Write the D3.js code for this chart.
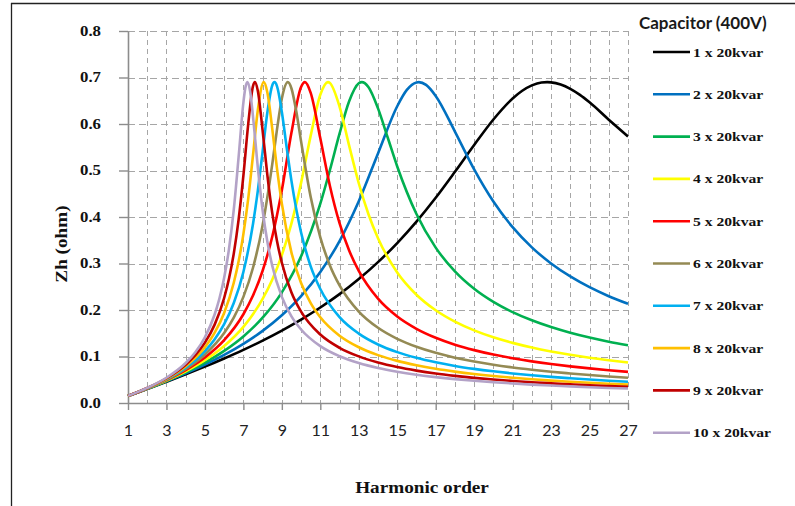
<!DOCTYPE html>
<html><head><meta charset="utf-8">
<script src="https://cdn.jsdelivr.net/npm/d3@7"></script>
<style>body{margin:0;background:#fff}svg{display:block}</style>
</head><body>
<svg id="chart" width="795" height="506"></svg>
<script>
// ---------- data ----------
const seriesLabels = ["1 x 20kvar","2 x 20kvar","3 x 20kvar","4 x 20kvar","5 x 20kvar","6 x 20kvar","7 x 20kvar","8 x 20kvar","9 x 20kvar","10 x 20kvar"];
const xTickValues = [1,3,5,7,9,11,13,15,17,19,21,23,25,27];
const yTickValues = [0,0.1,0.2,0.3,0.4,0.5,0.6,0.7,0.8];

const h1 = [1,2,3,4,5,6,7,8,9,10,11,12,13,14,15,16,17,18,19,20,21,21.5,22,22.5,22.8,23,23.5,24,24.5,25,26,27];
const z1 = [0.0150,0.0302,0.0457,0.0616,0.0783,0.0958,0.1143,0.1342,0.1558,0.1793,0.2053,0.2341,0.2665,0.3029,0.344,0.390,0.4413,0.4972,0.5548,0.6097,0.6548,0.6715,0.6831,0.6893,0.690,0.6896,0.6850,0.6757,0.6627,0.6466,0.6093,0.573];

const h2 = [1,2,3,4,5,6,7,8,9,10,11,12,13,14,15,15.5,16,16.12,16.5,17,18,19,20,21,22,23,24,25,26,27];
const z2 = [0.0151,0.0304,0.0465,0.0637,0.0824,0.1033,0.1272,0.1551,0.1887,0.2299,0.2818,0.3483,0.4338,0.5367,0.6382,0.6733,0.6894,0.690,0.6841,0.6604,0.5838,0.5023,0.4332,0.3781,0.3347,0.3001,0.2721,0.2490,0.2297,0.2134];

const h3 = [1,2,3,4,5,6,7,8,9,10,11,11.5,12,12.5,13,13.16,13.5,14,14.5,15,16,17,18,19,20,21,22,23,24,25,26,27];
const z3 = [0.0151,0.0307,0.0474,0.0658,0.0869,0.1121,0.1432,0.1834,0.2380,0.3155,0.4287,0.5011,0.5791,0.6489,0.6875,0.690,0.6795,0.6336,0.5715,0.5087,0.4064,0.3341,0.2831,0.2457,0.2175,0.1955,0.1778,0.1633,0.1511,0.1408,0.1319,0.1242];

const h4 = [1,2,3,4,5,6,7,8,8.5,9,9.5,10,10.5,11,11.4,11.5,12,12.5,13,13.5,14,15,16,17,18,19,20,21,22,23,24,25,26,27];
const z4 = [0.0151,0.0309,0.0482,0.0681,0.0920,0.1225,0.1637,0.2237,0.2652,0.3181,0.3864,0.4734,0.5750,0.6630,0.690,0.6883,0.6376,0.5534,0.4726,0.4065,0.3544,0.2808,0.2329,0.1994,0.1749,0.1561,0.1413,0.1293,0.1193,0.1109,0.1037,0.0974,0.0920,0.0871];

const h5 = [1,2,3,4,5,6,7,7.5,8,8.5,9,9.5,10,10.2,10.5,11,11.5,12,12.5,13,14,15,16,17,18,19,20,21,22,23,24,25,26,27];
const z5 = [0.0151,0.0312,0.0491,0.0706,0.0977,0.1350,0.1909,0.2310,0.2844,0.3575,0.4577,0.5815,0.6797,0.690,0.6669,0.5692,0.4668,0.3869,0.3280,0.2840,0.2243,0.1860,0.1596,0.1403,0.1254,0.1137,0.1041,0.0962,0.0895,0.0838,0.0788,0.0744,0.0705,0.0670];

const h6 = [1,2,3,4,5,6,6.5,7,7.5,8,8.5,8.75,9,9.31,9.5,9.75,10,10.5,11,11.5,12,13,14,15,16,17,18,19,20,21,22,23,24,25,26,27];
const z6 = [0.0152,0.0314,0.0501,0.0732,0.1043,0.1503,0.1834,0.2282,0.2909,0.3824,0.5133,0.5889,0.6549,0.690,0.6764,0.6272,0.5626,0.4430,0.3563,0.2959,0.2529,0.1966,0.1617,0.1380,0.1209,0.1078,0.0975,0.0892,0.0823,0.0765,0.0716,0.0672,0.0635,0.0601,0.0571,0.0544];

const h7 = [1,2,3,4,5,5.5,6,6.5,7,7.5,7.75,8,8.25,8.5,8.62,8.75,9,9.25,9.5,10,10.5,11,12,13,14,15,16,17,18,19,20,21,22,23,24,25,26,27];
const z7 = [0.0152,0.0317,0.0511,0.0760,0.1116,0.1365,0.1694,0.2149,0.2818,0.3851,0.4563,0.5405,0.6257,0.6828,0.690,0.6810,0.6259,0.5500,0.4776,0.3666,0.2939,0.2451,0.1846,0.1492,0.1259,0.1094,0.0971,0.0875,0.0797,0.0734,0.0681,0.0635,0.0596,0.0561,0.0531,0.0504,0.0480,0.0458];

const h8 = [1,2,3,4,5,5.5,6,6.5,6.75,7,7.25,7.5,7.75,8.06,8.25,8.5,8.75,9,9.5,10,10.5,11,12,13,14,15,16,17,18,19,20,21,22,23,24,25,26,27];
const z8 = [0.0152,0.0320,0.0521,0.0791,0.1200,0.1507,0.1937,0.2585,0.3042,0.3632,0.4391,0.5328,0.6296,0.690,0.6670,0.5900,0.5033,0.4287,0.3235,0.2580,0.2148,0.1844,0.1447,0.1199,0.1030,0.0906,0.0811,0.0735,0.0674,0.0623,0.0580,0.0543,0.0510,0.0482,0.0457,0.0434,0.0414,0.0396];

const h9 = [1,2,3,4,4.5,5,5.5,6,6.25,6.5,6.75,7,7.25,7.5,7.6,7.75,8,8.25,8.5,8.75,9,9.5,10,11,12,13,14,15,16,17,18,19,20,21,22,23,24,25,26,27];
const z9 = [0.0153,0.0322,0.0532,0.0824,0.1028,0.1299,0.1680,0.2258,0.2671,0.3213,0.3938,0.4888,0.5993,0.6815,0.690,0.6714,0.5859,0.4892,0.4090,0.3481,0.3016,0.2378,0.1966,0.1472,0.1187,0.1002,0.0870,0.0772,0.0696,0.0634,0.0584,0.0541,0.0505,0.0474,0.0446,0.0422,0.0401,0.0381,0.0364,0.0348];

const h10 = [1,2,3,4,4.5,5,5.5,5.75,6,6.25,6.5,6.75,7,7.1,7.21,7.35,7.5,7.75,8,8.25,8.5,9,9.5,10,11,12,13,14,15,16,17,18,19,20,21,22,23,24,25,26,27];
const z10 = [0.0153,0.0325,0.0543,0.0860,0.1092,0.1414,0.1898,0.2241,0.2694,0.3310,0.4157,0.5281,0.6458,0.6772,0.690,0.6701,0.6161,0.5070,0.4146,0.3461,0.2954,0.2282,0.1863,0.1581,0.1223,0.1006,0.0859,0.0753,0.0673,0.0609,0.0557,0.0514,0.0478,0.0447,0.0420,0.0396,0.0375,0.0357,0.0340,0.0324,0.0311];

const harmonicArrays = [h1,h2,h3,h4,h5,h6,h7,h8,h9,h10];
const impedanceArrays = [z1,z2,z3,z4,z5,z6,z7,z8,z9,z10];

// ---------- style ----------
const seriesColors = ["#000000","#0070C0","#00B050","#FFFF00","#FF0000","#948A54","#00B0F0","#FFC000","#C00000","#B3A2C7"];
const SERIF = "'Liberation Serif','Times New Roman',serif";
const SANS = "Lato,'Liberation Sans',Arial,sans-serif";
const STRETCH = 1.2;

const svg = d3.select("#chart");
const plot = {left:128, right:628, top:31, bottom:403};

const x = d3.scaleLinear().domain([1,27]).range([plot.left, plot.right]);
const y = d3.scaleLinear().domain([0,0.8]).range([plot.bottom, plot.top]);

// frame
svg.append("line").attr("x1",11.5).attr("x2",11.5).attr("y1",3).attr("y2",506).attr("stroke","#222").attr("stroke-width",1.3);
svg.append("line").attr("x1",11).attr("x2",795).attr("y1",3.5).attr("y2",3.5).attr("stroke","#222").attr("stroke-width",1.3);

// grid
const grid = svg.append("g");
grid.selectAll("line.v").data(d3.range(2,28)).join("line")
  .attr("x1",d=>Math.round(x(d))+0.5).attr("x2",d=>Math.round(x(d))+0.5)
  .attr("y1",plot.top).attr("y2",plot.bottom)
  .attr("stroke","#a6a6a6").attr("stroke-width",1).attr("stroke-dasharray","5,4");
grid.selectAll("line.h").data(yTickValues.slice(1)).join("line")
  .attr("x1",plot.left).attr("x2",plot.right)
  .attr("y1",d=>Math.round(y(d))+0.5).attr("y2",d=>Math.round(y(d))+0.5)
  .attr("stroke","#a6a6a6").attr("stroke-width",1).attr("stroke-dasharray","7,4");

// axes
const yAxis = svg.append("g").attr("transform",`translate(${plot.left},0)`)
  .call(d3.axisLeft(y).tickValues(yTickValues).tickSize(9).tickSizeOuter(0).tickPadding(18).tickFormat(d3.format(".1f")));
const xAxis = svg.append("g").attr("transform",`translate(0,${plot.bottom})`)
  .call(d3.axisBottom(x).tickValues(xTickValues).tickSize(7).tickSizeOuter(0).tickPadding(15).tickFormat(d3.format("d")));
[yAxis,xAxis].forEach(a=>{
  a.select(".domain").attr("stroke","#8c8c8c").attr("stroke-width",1.6);
  a.selectAll(".tick line").attr("stroke","#8c8c8c").attr("stroke-width",1.4);
});
yAxis.selectAll(".tick text").attr("font-family",SERIF).attr("font-weight","bold").attr("font-size",14).attr("fill","#111")
  .each(function(){const t=d3.select(this);const xx=+t.attr("x");t.attr("x",0).attr("transform",`translate(${xx},0) scale(${STRETCH},1)`);});
xAxis.selectAll(".tick text").attr("font-family",SANS).attr("font-size",16).attr("fill","#222");

// lines
const line = d3.line().x(d=>x(d[0])).y(d=>y(d[1])).curve(d3.curveMonotoneX);
const linesG = svg.append("g");
harmonicArrays.forEach((hs,i)=>{
  const pts = hs.map((h,j)=>[h, impedanceArrays[i][j]]);
  linesG.append("path").attr("d",line(pts)).attr("fill","none")
    .attr("stroke",seriesColors[i]).attr("stroke-width",2.6).attr("stroke-linejoin","round");
});

// axis titles
svg.append("text").attr("transform",`translate(422,493) scale(${STRETCH},1)`).attr("text-anchor","middle")
  .attr("font-family",SERIF).attr("font-weight","bold").attr("font-size",16).attr("fill","#111").text("Harmonic order");
svg.append("text").attr("transform",`translate(67,244) rotate(-90) scale(${STRETCH},1)`).attr("text-anchor","middle")
  .attr("font-family",SERIF).attr("font-weight","bold").attr("font-size",16).attr("fill","#111").text("Zh (ohm)");

// legend
const lg = svg.append("g");
lg.append("text").attr("x",639).attr("y",29).attr("font-family",SANS).attr("font-weight","bold").attr("font-size",17).attr("fill","#1a1a1a").text("Capacitor (400V)");
const legendStep = 42.3;
seriesLabels.forEach((lab,i)=>{
  const yy = 52 + i*legendStep;
  lg.append("line").attr("x1",653).attr("x2",690).attr("y1",yy).attr("y2",yy).attr("stroke",seriesColors[i]).attr("stroke-width",2.6);
  lg.append("text").attr("transform",`translate(693,${yy+4.5}) scale(${STRETCH},1)`)
    .attr("font-family",SERIF).attr("font-weight","bold").attr("font-size",13).attr("fill","#111").text(lab);
});
</script>
</body></html>
